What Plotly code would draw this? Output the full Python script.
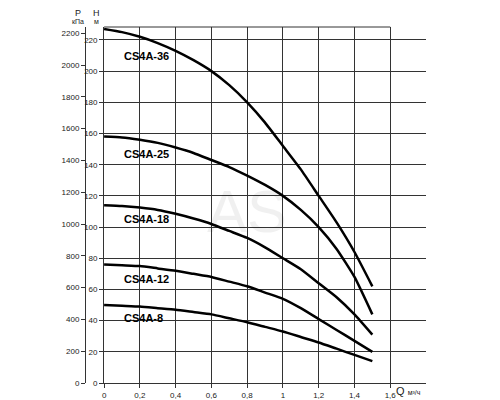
import plotly.graph_objects as go

q = [0, 0.1, 0.2, 0.3, 0.4, 0.5, 0.6, 0.7, 0.8, 0.9, 1.0, 1.1, 1.2, 1.3, 1.4, 1.5]
curves = {
    "CS4A-36": [227, 225, 222, 218, 213, 207, 200, 191, 180, 167, 152, 137, 120, 103, 84, 62],
    "CS4A-25": [158, 157.5, 156, 154, 151, 147.5, 143, 138.5, 133, 127, 120, 111, 100, 86, 68, 44],
    "CS4A-18": [114, 113.5, 112.5, 111, 108.5, 105.5, 102, 97.5, 93, 87, 80, 73, 64, 55, 44, 31],
    "CS4A-12": [76, 75.5, 75, 73.5, 72, 70, 68, 65, 62, 58, 54, 48, 41, 34, 27, 20],
    "CS4A-8": [50, 49.5, 49, 48, 47, 45.5, 44, 41.5, 39, 36, 33, 29.5, 26, 22, 18, 14],
}
label_y = {"CS4A-36": 210, "CS4A-25": 147, "CS4A-18": 105, "CS4A-12": 67, "CS4A-8": 42}

x_ticks = [0, 0.2, 0.4, 0.6, 0.8, 1.0, 1.2, 1.4, 1.6]
x_labels = ["0", "0,2", "0,4", "0,6", "0,8", "1", "1,2", "1,4", "1,6"]
h_ticks = list(range(0, 221, 20))
p_ticks = list(range(0, 2201, 200))

fig = go.Figure()
for name, h in curves.items():
    fig.add_trace(go.Scatter(x=q, y=h, mode="lines",
                             line=dict(color="black", width=2.5, shape="spline", smoothing=0.5),
                             showlegend=False, hoverinfo="skip"))
    fig.add_annotation(x=0.1, y=label_y[name], text="<b>" + name + "</b>", showarrow=False,
                       xanchor="left", font=dict(size=11, color="black"))

fig.add_trace(go.Scatter(x=[0], y=[0], yaxis="y2", mode="markers", marker=dict(opacity=0),
                         showlegend=False, hoverinfo="skip"))

fig.add_annotation(x=0.8, y=110, text="AS", showarrow=False, font=dict(size=60, color="rgba(0,0,0,0.06)"))

fig.update_layout(
    width=500, height=400, margin=dict(l=77, r=82, t=19, b=25, autoexpand=False),
    plot_bgcolor="white", paper_bgcolor="white",
    font=dict(family="Liberation Sans, Arial", size=8, color="#222"),
    xaxis=dict(domain=[0.056, 1], range=[0, 1.8], tickvals=x_ticks, ticktext=x_labels,
               showgrid=True, gridcolor="#333", gridwidth=1, zeroline=False, automargin=False,
               showline=True, linecolor="#333", ticks="outside", ticklen=4, tickcolor="#333"),
    yaxis=dict(range=[0, 228.3], tickvals=h_ticks, showgrid=True, gridcolor="#333", gridwidth=1,
               zeroline=False, showline=True, linecolor="#333", ticks="outside", ticklen=4,
               tickcolor="#333", anchor="x", automargin=False),
    yaxis2=dict(range=[0, 2239], tickvals=p_ticks, overlaying="y", anchor="free", position=0,
                side="left", showgrid=False, zeroline=False, showline=True, linecolor="#333",
                ticks="outside", ticklen=4, tickcolor="#333", automargin=False),
)
fig.add_shape(type="line", xref="x", yref="paper", x0=0, x1=1.6, y0=1, y1=1, line=dict(color="#333", width=1))
for xp, big, small in [(-0.02, "P", "кПа"), (0.035, "H", "м")]:
    fig.add_annotation(xref="paper", yref="paper", x=xp, y=1.0, text=small, showarrow=False,
                       xanchor="center", yanchor="bottom", yshift=0, font=dict(size=7))
    fig.add_annotation(xref="paper", yref="paper", x=xp, y=1.0, text=big, showarrow=False,
                       xanchor="center", yanchor="bottom", yshift=7, font=dict(size=9))
fig.add_annotation(xref="x", yref="paper", x=1.7, y=0.0, text="Q <span style='font-size:7px'>м³/ч</span>",
                   showarrow=False, xanchor="center", yanchor="top", font=dict(size=11))

fig.write_html("out.html")
